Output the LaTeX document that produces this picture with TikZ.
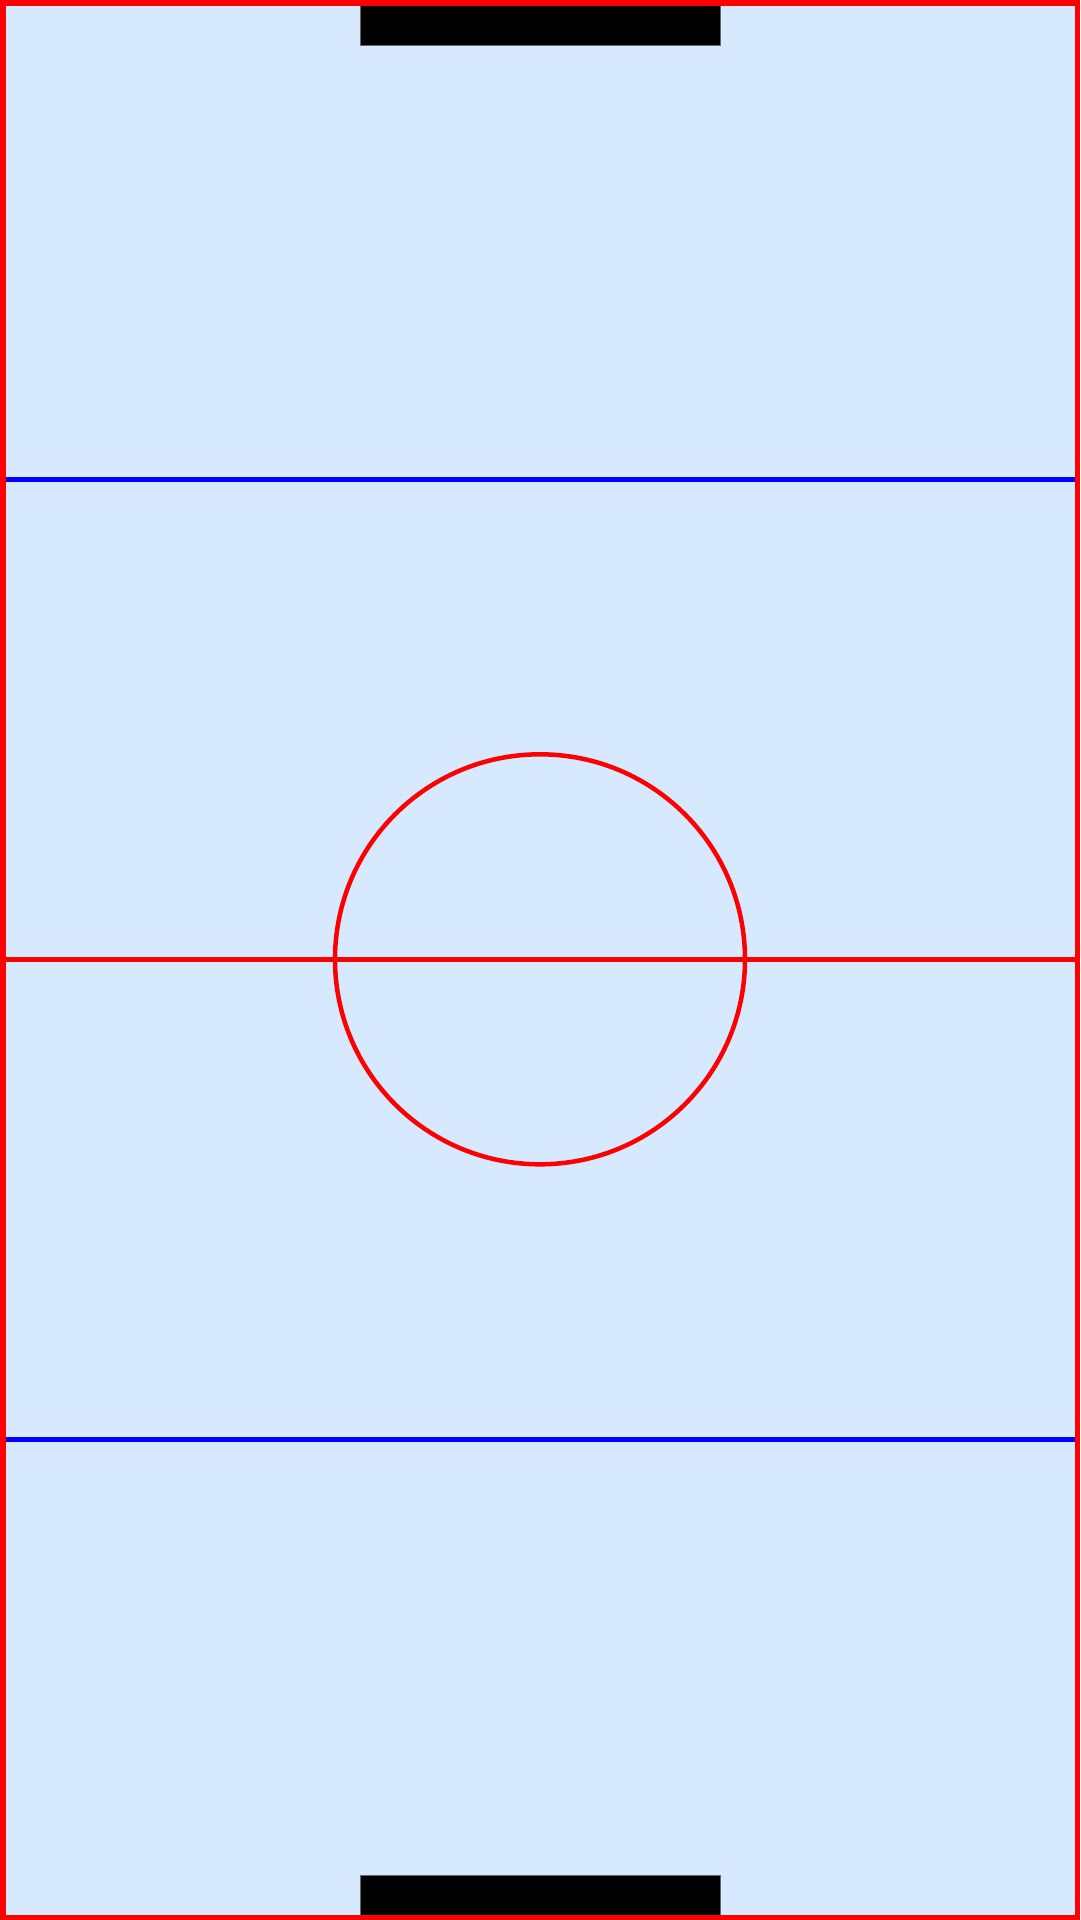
\documentclass[tikz,border=0pt]{standalone}
\definecolor{ice}{HTML}{D6E9FF}
\begin{document}
\begin{tikzpicture}[x=1pt,y=-1pt,
  redline/.style={draw=red,line width=4.5pt},
  blueline/.style={draw=blue,line width=5pt},
  goal/.style={fill=black,draw=black!60,line width=0.6pt}]
\useasboundingbox (0,0) rectangle (1080,1920);
\fill[ice] (0,0) rectangle (1080,1920);
% blue lines
\draw[blueline] (0,479.5) -- (1080,479.5);
\draw[blueline] (0,1439.5) -- (1080,1439.5);
% centre line and circle
\draw[redline] (0,959.3) -- (1080,959.3);
\draw[redline] (540,959.3) circle[radius=205];
% goals
\path[goal] (360,5) rectangle (720.5,45);
\path[goal] (360,1875) rectangle (720.5,1915);
% boards
\draw[draw=red,line width=5.5pt] (2.75,2.75) rectangle (1077.25,1917.25);
\end{tikzpicture}
\end{document}
